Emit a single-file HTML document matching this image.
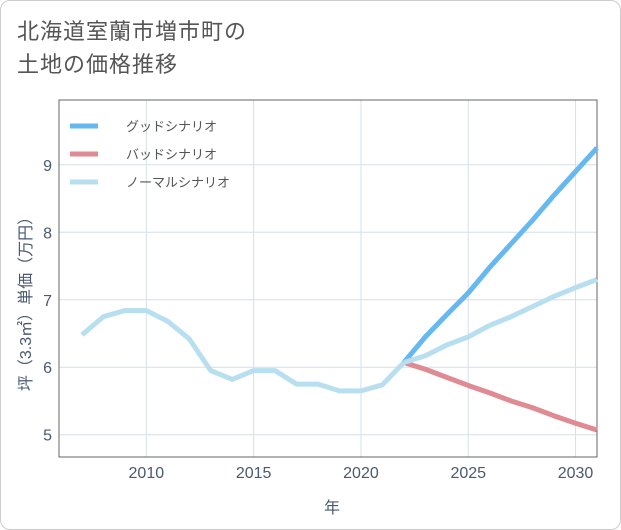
<!DOCTYPE html>
<html><head><meta charset="utf-8"><style>
body{margin:0;background:#fff;font-family:"Liberation Sans","Noto Sans CJK JP",sans-serif}
#wrap{position:relative;width:619px;height:528px;border:1px solid #ccc;border-radius:10px;overflow:hidden;background:#fff}
#title{position:absolute;left:16px;top:14px;font-size:22px;color:#555;line-height:33px;letter-spacing:1px}
</style></head><body>
<div id="wrap">
<div id="title">北海道室蘭市増市町の<br>土地の価格推移</div>
<svg id="chart" width="621" height="530" style="position:absolute;left:-1px;top:-1px"></svg>
</div>
<script>
const years=[2007,2008,2009,2010,2011,2012,2013,2014,2015,2016,2017,2018,2019,2020,2021,2022];
const histVals=[6.48,6.75,6.84,6.84,6.68,6.42,5.95,5.82,5.95,5.95,5.75,5.75,5.65,5.65,5.74,6.07];
const futYears=[2022,2023,2024,2025,2026,2027,2028,2029,2030,2031];
const goodVals=[6.07,6.45,6.78,7.1,7.48,7.83,8.18,8.55,8.9,9.25];
const badVals=[6.07,5.97,5.85,5.73,5.62,5.5,5.4,5.28,5.17,5.07];
const normalVals=[6.07,6.17,6.33,6.45,6.62,6.75,6.9,7.05,7.18,7.3];
const xTicks=[2010,2015,2020,2025,2030];
const yTicks=[5,6,7,8,9];
const legendLabels=["グッドシナリオ","バッドシナリオ","ノーマルシナリオ"];
const L=59,R=597,T=100,B=457,x0=2005.93,x1=2031,y0=4.67,y1=9.96;
const X=v=>L+(v-x0)/(x1-x0)*(R-L), Y=v=>B-(v-y0)/(y1-y0)*(B-T);
const svg=document.getElementById('chart');const NS='http://www.w3.org/2000/svg';
function mk(t,a,p){const e=document.createElementNS(NS,t);for(const k in a)e.setAttribute(k,a[k]);(p||svg).appendChild(e);return e;}
const grid=mk('g',{});


xTicks.forEach(v=>{mk('line',{x1:X(v),x2:X(v),y1:T,y2:B,stroke:'#d5e0ea'},grid);
const t=mk('text',{x:X(v),y:478,'text-anchor':'middle','font-size':16,fill:'#4a5870'});t.textContent=v;

});
yTicks.forEach(v=>{mk('line',{x1:L,x2:R,y1:Y(v),y2:Y(v),stroke:'#d5e0ea'},grid);
const t=mk('text',{x:52,y:Y(v)+6,'text-anchor':'end','font-size':16,fill:'#4a5870'});t.textContent=v;

});
const frame=mk('rect',{x:L,y:T,width:R-L,height:B-T,fill:'none',stroke:'#666','stroke-width':1});


function line(xs,ys,c,name){const p=mk('polyline',{points:xs.map((x,i)=>X(x)+','+Y(ys[i])).join(' '),fill:'none',stroke:c,'stroke-width':5,'stroke-linejoin':'round'});

}
line(futYears,badVals,'#e08a93','bad-scenario-line');
line(futYears,goodVals,'#66b8f0','good-scenario-line');
line(futYears,normalVals,'#b8dff0','normal-scenario-line');
line(years,histVals,'#b8dff0','historical-line');
const cols=['#66b8f0','#e08a93','#b8dff0'];
legendLabels.forEach((s,i)=>{const y=126+i*28;
const l=mk('line',{x1:70,x2:98,y1:y,y2:y,stroke:cols[i],'stroke-width':5});


const t=mk('text',{x:126,y:y+5,'font-size':13,fill:'#555'});t.textContent=s;

});
const xt=mk('text',{x:332,y:513,'text-anchor':'middle','font-size':16,fill:'#4a5870'});xt.textContent='年';


const yt=mk('text',{x:0,y:0,'text-anchor':'middle','font-size':16,fill:'#4a5870',transform:'translate(31,300) rotate(-90)'});yt.textContent='坪（3.3㎡）単価（万円）';


</script>
</body></html>
